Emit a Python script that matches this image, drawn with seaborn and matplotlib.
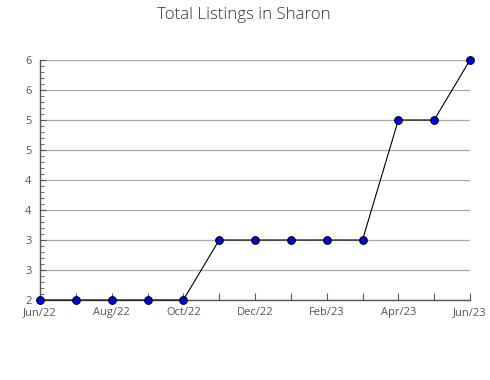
import matplotlib
matplotlib.use("Agg")
import matplotlib.pyplot as plt
import seaborn as sns
import numpy as np
import pandas as pd
from matplotlib.ticker import MultipleLocator

months = ["Jun/22", "Jul/22", "Aug/22", "Sep/22", "Oct/22", "Nov/22", "Dec/22",
          "Jan/23", "Feb/23", "Mar/23", "Apr/23", "May/23", "Jun/23"]
listings = [2, 2, 2, 2, 2, 3, 3, 3, 3, 3, 5, 5, 6]
y_ticks = [2.0, 2.5, 3.0, 3.5, 4.0, 4.5, 5.0, 5.5, 6.0]
y_tick_labels = ["2", "3", "3", "4", "4", "5", "5", "6", "6"]
title = "Total Listings in Sharon"

sns.set_theme(style="white")
plt.rcParams["font.family"] = ["Open Sans", "DejaVu Sans"]

df = pd.DataFrame({"idx": np.arange(len(months)), "val": listings})

fig = plt.figure(figsize=(4.9, 3.8), dpi=100)
ax = fig.add_axes([40/490, 80/380, 430/490, 240/380])

for y in y_ticks:
    ax.axhline(y, color="#aaaaaa", lw=0.9, zorder=0)

sns.lineplot(data=df, x="idx", y="val", ax=ax, color="black", lw=0.8,
             marker="o", markersize=5.5, markerfacecolor="#0000ee",
             markeredgecolor="black", markeredgewidth=0.8, clip_on=False, zorder=5)

ax.set_xlim(0, len(months) - 1)
ax.set_ylim(2, 6)
ax.set_xticks(df["idx"])
ax.set_xticklabels([m if i % 2 == 0 else "" for i, m in enumerate(months)])
ax.set_yticks(y_ticks)
ax.set_yticklabels(y_tick_labels)
ax.yaxis.set_minor_locator(MultipleLocator(0.1))
ax.set_xlabel("")
ax.set_ylabel("")
ax.set_axisbelow(True)

for s in ["top", "right"]:
    ax.spines[s].set_visible(False)
for s in ["left", "bottom"]:
    ax.spines[s].set_color("#555555")
    ax.spines[s].set_linewidth(1.0)

ax.tick_params(axis="x", which="major", direction="in", length=5, width=0.8,
               color="#555555", labelsize=8, labelcolor="#555555", pad=5, bottom=True)
ax.tick_params(axis="y", which="major", direction="in", length=4, width=0.8,
               color="#555555", labelsize=8, labelcolor="#555555", pad=6, left=True)
ax.tick_params(axis="y", which="minor", direction="in", length=3, width=0.6,
               color="#555555", left=True)

fig.text(244/490, 1 - 15/380, title, ha="center", va="center", fontsize=12.2,
         color="#333333", fontweight="light")

fig.savefig("out.png", dpi=100)
